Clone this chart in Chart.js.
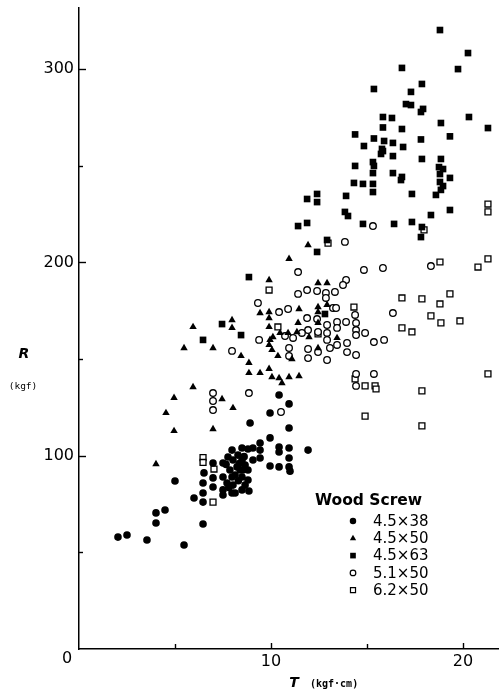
<!DOCTYPE html>
<html>
<head>
<meta charset="utf-8">
<script src="https://cdn.jsdelivr.net/npm/chart.js@4"></script>
<style>
  html, body { margin: 0; padding: 0; background: #fff; }
  #wrap { width: 499px; height: 694px; }
</style>
</head>
<body>
<div id="wrap"><canvas id="chart" width="499" height="694"></canvas></div>
<script>
// Torque T (kgf·cm) vs. withdrawal resistance R (kgf), one array per screw size
const screw45x38 = [
    [10.42,131.4],[10.94,126.8],[9.95,122.1],[8.91,116.9],[10.94,114.3],[9.95,109.2],[9.43,106.6],
    [9.43,102.9],[8.49,104.0],[8.80,103.5],[9.06,104.0],[10.42,104.5],[10.42,101.9],[10.94,104.0],
    [11.93,102.9],[10.94,98.8],[9.43,98.8],[9.06,97.8],[8.49,97.8],[9.95,94.7],[10.42,94.2],
    [10.94,94.2],[10.99,92.0],[7.97,102.9],[7.5,96.2],[8.02,97.8],[8.23,94.2],[7.86,92.6],
    [8.54,92.6],[8.80,92.6],[7.5,89.0],[7.97,89.0],[8.49,89.0],[8.80,87.4],[7.5,82.3],[8.02,84.8],
    [7.97,80.7],[8.13,80.7],[8.49,82.3],[7.5,79.7],[8.85,81.7],[6.51,91.1],[6.46,85.9],[6.98,88.5],
    [6.98,83.8],[6.46,80.7],[5.99,78.1],[6.46,76.0],[6.98,96.2],[4.01,70.4],[4.48,71.9],[4.01,65.2],
    [6.46,64.7],[2.03,57.9],[2.5,59.0],[3.54,56.4],[5.47,53.8],[5.0,86.9],[7.76,99.3],[8.28,100.3],
    [8.65,84.8],[7.71,85.9],[8.39,92.6],[8.13,90.0],[8.65,95.2],[7.66,95.5],[8.30,87.0],[7.80,83.5],
    [8.60,99.5],[8.35,96.0]
];
const screw45x50 = [
    [4.01,95.7],[4.53,122.1],[4.95,112.8],[4.95,129.9],[5.94,135.5],[6.98,113.8],[8.02,124.7],
    [7.45,129.3],[5.47,155.7],[5.94,166.6],[6.98,155.7],[7.97,170.2],[7.97,166.1],[8.44,151.6],
    [8.85,148.0],[8.85,142.8],[9.43,142.8],[9.90,144.9],[10.05,140.7],[10.42,140.2],[10.57,137.6],
    [10.94,140.7],[11.46,141.2],[11.93,209.0],[10.94,201.8],[9.90,190.9],[12.45,189.3],[12.92,189.3],
    [12.45,176.9],[12.92,178.0],[9.43,173.8],[9.90,174.3],[11.46,175.9],[12.45,174.3],[9.90,171.2],
    [12.45,168.7],[11.41,168.7],[9.90,166.6],[11.35,164.0],[10.89,163.5],[10.47,163.5],[11.98,161.4],
    [10.10,161.4],[9.95,159.9],[9.90,157.3],[10.05,154.7],[13.44,160.9],[10.36,151.6],[11.09,150.0],
    [12.45,155.7]
];
const screw45x63 = [
    [18.80,320.2],[20.26,308.3],[16.82,300.6],[19.74,300.0],[17.86,292.3],[15.36,289.7],[17.29,288.2],
    [17.03,281.9],[17.29,281.4],[17.81,277.8],[17.92,279.4],[15.83,275.2],[16.30,274.7],[20.31,275.2],
    [18.85,272.1],[15.83,269.8],[16.82,269.0],[21.30,269.5],[14.38,266.2],[15.36,264.1],[15.89,262.8],
    [16.35,261.8],[17.81,263.6],[19.32,265.2],[14.84,260.2],[16.88,259.7],[15.78,258.7],[15.83,257.6],
    [15.73,256.1],[16.35,255.0],[17.86,253.5],[18.85,253.5],[14.38,249.9],[15.31,251.9],[15.36,249.9],
    [18.75,249.3],[18.96,248.3],[18.80,245.7],[15.31,246.2],[16.35,246.2],[16.82,244.2],[16.77,242.6],
    [19.32,243.7],[18.80,241.6],[18.96,239.5],[18.85,237.5],[14.32,241.1],[14.79,240.6],[15.31,240.6],
    [15.31,236.4],[17.34,235.4],[18.59,234.9],[12.40,235.4],[12.40,231.2],[11.88,232.8],[13.91,234.4],
    [19.32,227.1],[18.33,224.5],[13.85,226.1],[14.01,224.0],[11.41,218.8],[11.88,220.4],[14.79,219.9],
    [16.41,219.9],[17.34,220.9],[17.86,218.3],[17.81,213.1],[12.92,211.6],[12.40,205.4],[8.85,192.4],
    [7.45,168.1],[8.44,162.4],[6.46,159.9],[12.81,173.3]
];
const screw51x50 = [
    [7.97,154.2],[6.98,132.4],[6.98,128.3],[6.98,123.6],[8.85,132.4],[10.52,122.6],[11.41,195.0],
    [13.85,210.6],[15.31,218.8],[14.84,196.1],[15.83,197.1],[18.33,198.1],[13.91,190.9],[13.75,188.3],
    [11.41,183.7],[11.88,185.7],[12.40,185.2],[12.86,184.2],[13.33,184.7],[12.86,181.6],[9.32,179.0],
    [10.42,174.3],[10.89,175.9],[13.23,176.4],[13.39,176.4],[14.38,172.8],[16.35,173.8],[11.88,171.2],
    [12.40,170.7],[13.44,169.2],[13.91,169.2],[12.92,167.6],[14.43,168.7],[14.43,165.0],[14.43,162.4],
    [13.44,166.1],[14.90,163.5],[15.36,158.8],[15.89,159.9],[11.93,165.0],[12.45,164.0],[12.92,163.5],
    [11.61,163.5],[11.15,160.9],[10.73,161.9],[9.38,159.9],[12.92,159.9],[13.44,157.3],[13.96,158.3],
    [10.94,155.7],[10.94,151.6],[11.93,155.2],[11.93,150.5],[12.45,153.6],[13.07,155.7],[13.96,153.6],
    [14.43,152.1],[12.92,149.5],[14.43,142.3],[14.43,136.1],[15.36,142.3]
];
const screw62x50 = [
    [6.46,99.0],[6.46,96.5],[7.03,93.1],[6.98,76.0],[9.90,185.7],[10.36,166.6],[12.45,163.0],
    [12.97,210.0],[14.32,176.9],[14.38,139.7],[14.90,136.1],[15.42,136.1],[15.47,134.5],[14.90,120.5],
    [17.86,133.5],[17.86,115.4],[21.30,142.3],[17.97,216.8],[21.30,230.2],[21.30,226.1],[18.80,200.2],
    [20.78,197.6],[21.30,201.8],[16.82,181.6],[17.86,181.1],[19.32,183.7],[18.80,178.5],[18.33,172.3],
    [18.85,168.7],[19.84,169.7],[16.82,166.1],[17.34,164.0]
];

const seriesLabels = ['4.5\u00d738', '4.5\u00d750', '4.5\u00d763', '5.1\u00d750', '6.2\u00d750'];
const xTicks = [0, 5, 10, 15, 20];
const yTicks = [0, 50, 100, 150, 200, 250, 300];
const xTickLabels = [10, 20];
const yTickLabels = [100, 200, 300];

// marker look per series: [pointStyle, radius, filled]
const markers = [
    ['circle', 3.8, true],
    ['triangle', 4.3, true],
    ['rect', 4.7, true],
    ['circle', 3.3, false],
    ['rect', 4.2, false]
];

const allSeries = [screw45x38, screw45x50, screw45x63, screw51x50, screw62x50];

const datasets = allSeries.map((pts, i) => {
    const m = markers[i];
    return {
        label: seriesLabels[i],
        data: pts.map(p => ({ x: p[0], y: p[1] })),
        pointStyle: m[0],
        pointRadius: m[1],
        pointHoverRadius: m[1],
        backgroundColor: m[2] ? '#000' : '#fff',
        borderColor: '#000',
        pointBorderWidth: m[2] ? 0 : 1.3,
        showLine: false
    };
});

const hasLabel = (list, v) => list.some(t => Math.abs(t - v) < 1e-6);

// inward tick marks, origin "0", axis titles and the key
const annotate = {
    id: 'annotate',
    afterDraw(chart) {
        const ctx = chart.ctx;
        const xs = chart.scales.x, ys = chart.scales.y;
        const left = chart.chartArea.left, bottom = chart.chartArea.bottom;
        ctx.save();
        ctx.strokeStyle = '#000';
        ctx.fillStyle = '#000';
        ctx.lineWidth = 1.4;

        yTicks.slice(1).forEach(v => {
            const py = Math.round(ys.getPixelForValue(v)) + 0.5;
            const len = v % 100 === 0 ? 7 : 4;
            ctx.beginPath();
            ctx.moveTo(left, py);
            ctx.lineTo(left + len, py);
            ctx.stroke();
        });
        xTicks.slice(1).forEach(v => {
            const px = Math.round(xs.getPixelForValue(v)) + 0.5;
            const len = v % 10 === 0 ? 6 : 5;
            ctx.beginPath();
            ctx.moveTo(px, bottom);
            ctx.lineTo(px, bottom - len);
            ctx.stroke();
        });

        ctx.font = '16px "DejaVu Sans"';
        ctx.textAlign = 'center';
        ctx.textBaseline = 'middle';
        ctx.fillText('0', left - 12, bottom + 10);

        ctx.font = 'bold italic 14px "DejaVu Sans"';
        ctx.fillText('R', 24, 354);
        ctx.fillText('T', 294, 683);
        ctx.font = '9.5px "DejaVu Sans Mono"';
        ctx.fillText('(kgf)', 23, 387);
        ctx.textAlign = 'left';
        ctx.font = 'bold 10px "DejaVu Sans Mono"';
        ctx.fillText('(kgf\u00b7cm)', 310, 684);

        // key
        ctx.font = 'bold 15.5px "DejaVu Sans"';
        ctx.fillText('Wood Screw', 315, 501);
        ctx.font = '15px "DejaVu Sans"';
        seriesLabels.forEach((lab, i) => {
            const y = 521 + i * 17.3;
            const m = markers[i];
            ctx.fillStyle = m[2] ? '#000' : '#fff';
            ctx.lineWidth = 1.2;
            Chart.helpers.drawPoint(ctx, {
                pointStyle: m[0],
                radius: m[1] * 0.85,
                rotation: 0,
                borderWidth: m[2] ? 0 : 1.2
            }, 353, y);
            ctx.fillStyle = '#000';
            ctx.fillText(lab, 373, y + 1);
        });
        ctx.restore();
    }
};

new Chart(document.getElementById('chart'), {
    type: 'scatter',
    data: { datasets: datasets },
    plugins: [annotate],
    options: {
        responsive: false,
        animation: false,
        layout: { autoPadding: false, padding: { left: 0, right: 0, top: 8, bottom: 0 } },
        plugins: {
            legend: { display: false },
            tooltip: { enabled: false }
        },
        scales: {
            x: {
                type: 'linear',
                min: 0,
                max: 21.875,
                afterBuildTicks: s => { s.ticks = xTicks.map(v => ({ value: v })); },
                afterFit: s => { s.height = 45; s.paddingLeft = 0; s.paddingRight = 0; },
                grid: { display: false, drawTicks: false },
                border: { display: true, color: '#000', width: 1.5 },
                ticks: {
                    padding: 3,
                    color: '#000',
                    font: { family: 'DejaVu Sans', size: 16 },
                    maxRotation: 0,
                    autoSkip: false,
                    callback: v => hasLabel(xTickLabels, v) ? String(Math.round(v)) : ''
                }
            },
            y: {
                type: 'linear',
                min: 0,
                max: 331.6,
                afterBuildTicks: s => { s.ticks = yTicks.map(v => ({ value: v })); },
                afterFit: s => { s.width = 79; s.paddingTop = 0; s.paddingBottom = 0; },
                grid: { display: false, drawTicks: false },
                border: { display: true, color: '#000', width: 1.5 },
                ticks: {
                    padding: 5,
                    color: '#000',
                    font: { family: 'DejaVu Sans', size: 16 },
                    autoSkip: false,
                    callback: v => hasLabel(yTickLabels, v) ? String(Math.round(v)) : ''
                }
            }
        }
    }
});
</script>
</body>
</html>
